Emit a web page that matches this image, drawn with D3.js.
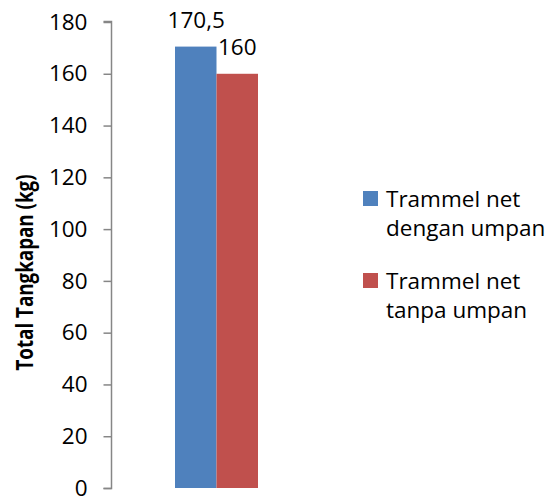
<!DOCTYPE html>
<html><head><meta charset="utf-8">
<script src="https://cdn.jsdelivr.net/npm/d3@7"></script>
<style>body{margin:0;background:#fff}svg{display:block}text{font-family:"Open Sans",sans-serif}</style>
</head><body><svg id="c" width="548" height="498"></svg>
<script>
const categories = ["Trammel net dengan umpan", "Trammel net tanpa umpan"];
const legendLines = [["Trammel net", "dengan umpan"], ["Trammel net", "tanpa umpan"]];
const values = [170.5, 160];
const valueLabels = ["170,5", "160"];
const colors = ["#4F81BD", "#C0504D"];
const yTicks = [0, 20, 40, 60, 80, 100, 120, 140, 160, 180];
const yTitle = "Total Tangkapan (kg)";

const svg = d3.select("#c");
const y = d3.scaleLinear().domain([0, 180]).range([488, 22]);
const x = d3.scaleBand().domain(categories).range([175, 258]).padding(0);

const axis = svg.append("g").attr("transform", "translate(111.5,0)")
  .call(d3.axisLeft(y).tickValues(yTicks).tickSize(8).tickPadding(16));
axis.select(".domain").attr("stroke", "#868686").attr("stroke-width", 1.5).attr("d", "M-8,488.5H0V21.5H-8");
axis.selectAll(".tick line").attr("stroke", "#868686").attr("stroke-width", 1.5);
axis.selectAll(".tick text").attr("font-size", 22.5).attr("fill", "#000").attr("font-family", "Open Sans");

svg.selectAll("rect.bar").data(values).join("rect").attr("class", "bar")
  .attr("x", (d, i) => x(categories[i])).attr("width", x.bandwidth())
  .attr("y", d => y(d)).attr("height", d => y(0) - y(d))
  .attr("fill", (d, i) => colors[i]);

svg.selectAll("text.vl").data(values).join("text").attr("class", "vl")
  .attr("x", (d, i) => x(categories[i]) + x.bandwidth() / 2 + (i === 1 ? 0 : 0.5))
  .attr("y", d => y(d) - 19)
  .attr("text-anchor", "middle").attr("font-size", 22.5).attr("fill", "#000")
  .text((d, i) => valueLabels[i]);

svg.append("text").attr("transform", "translate(33,272.5) rotate(-90)")
  .attr("text-anchor", "middle").attr("font-size", 23).attr("font-weight", "bold")
  .attr("textLength", 196).attr("lengthAdjust", "spacingAndGlyphs")
  .text(yTitle);

const lg = svg.append("g");
legendLines.forEach((lines, i) => {
  const top = 191 + i * 82;
  lg.append("rect").attr("x", 363).attr("y", top).attr("width", 15).attr("height", 15).attr("fill", colors[i]);
  lines.forEach((t, j) => {
    lg.append("text").attr("x", 386).attr("y", top + 16 + j * 28.5)
      .attr("font-size", 22.5).attr("fill", "#000").text(t);
  });
});
</script></body></html>
